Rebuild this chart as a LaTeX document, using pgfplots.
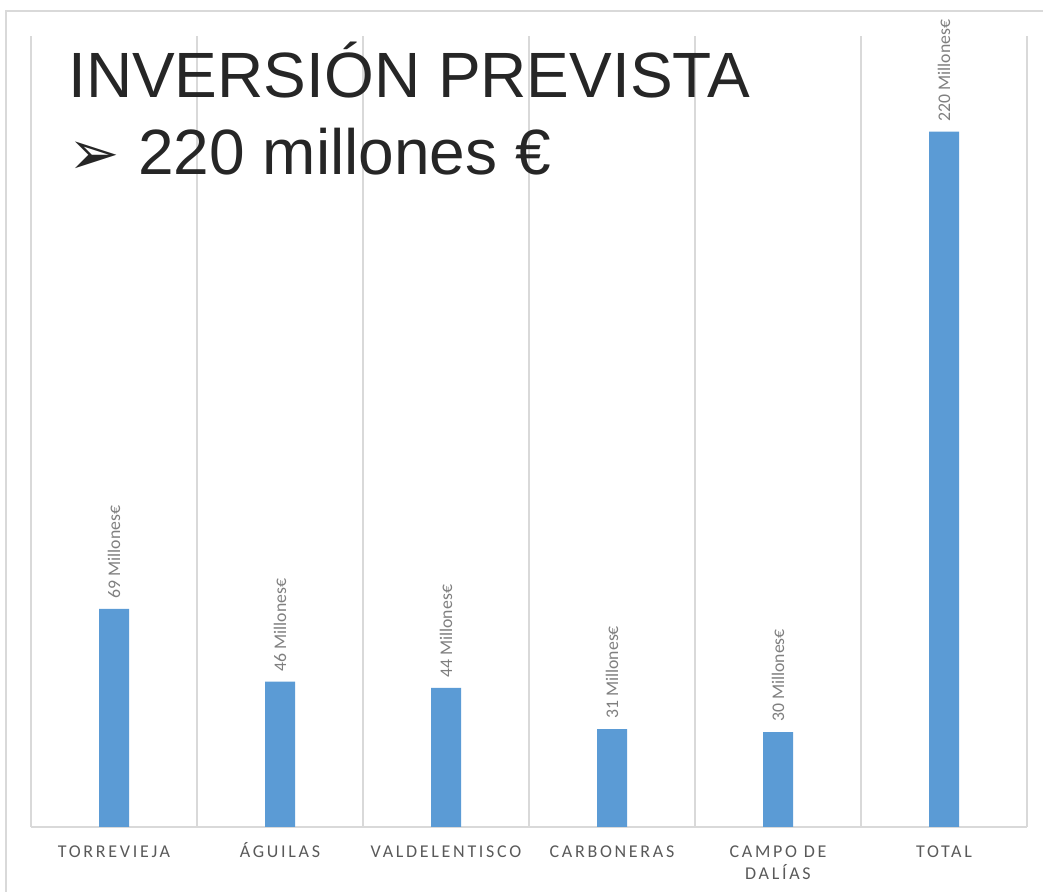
\documentclass[border=0pt]{standalone}
\usepackage{fontspec}
\setmainfont{Liberation Sans}
\newfontfamily\carlito{Carlito}
\newfontfamily\carlitosp[LetterSpace=15]{Carlito}
\newfontfamily\dejavu{DejaVu Sans}
\usepackage{pgfplots}
\usepackage{pgfplotstable}
\pgfplotsset{compat=1.18}
\definecolor{barblue}{HTML}{5B9BD5}
\definecolor{gridgray}{HTML}{D9D9D9}
\definecolor{ticklab}{HTML}{595959}
\definecolor{datalab}{HTML}{7F7F7F}
\definecolor{titlegray}{HTML}{262626}

% inversión prevista por puerto (millones de euros)
\pgfplotstableread{
x val
0 69
1 46
2 44
3 31
4 30
5 220
}\inversion

\begin{document}
\begin{tikzpicture}
\begin{axis}[
  at={(0,0)}, anchor=south west,
  scale only axis, width=747pt, height=593.25pt,
  xmin=-0.5, xmax=5.5, ymin=0, ymax=250.3,
  axis x line*=bottom, axis y line=none,
  x axis line style={draw=gridgray, line width=1.1pt},
  ytick=\empty,
  xtick={0,...,5},
  xticklabels={TORREVIEJA, ÁGUILAS, VALDELENTISCO, CARBONERAS, {CAMPO DE\\DALÍAS}, TOTAL},
  minor xtick={-0.5,0.5,...,5.5},
  xminorgrids,
  minor grid style={draw=gridgray, line width=1.1pt},
  major tick length=0pt, minor tick length=0pt,
  typeset ticklabels with strut,
  x tick label style={font=\carlitosp\fontsize{13.5}{16.5}\selectfont, text=ticklab,
    align=center, anchor=north, inner sep=0pt, yshift=-10.95pt},
  ybar, bar width=22.5pt,
  /pgf/number format/assume math mode=true,
  nodes near coords={\pgfmathprintnumber{\pgfplotspointmeta}~Millones€},
  nodes near coords style={rotate=90, anchor=west, text=datalab,
    font=\carlito\fontsize{13.3}{16}\selectfont, inner ysep=0pt, inner xsep=7.5pt},
]
\addplot[fill=barblue, draw=none] table[x=x, y=val] {\inversion};
\end{axis}
\draw[gridgray, line width=1.1pt] (-18.75pt,-80pt) -- (-18.75pt,612pt) -- (800pt,612pt);
\node[anchor=base west, inner sep=0pt, text=titlegray, font=\fontsize{48}{56}\selectfont]
  at (27.75pt,546.75pt) {INVERSIÓN PREVISTA};
\node[anchor=base west, inner sep=0pt, text=titlegray, font=\dejavu\fontsize{46}{50}\selectfont]
  at (28pt,489pt) {➢};
\node[anchor=base west, inner sep=0pt, text=titlegray, font=\fontsize{48}{56}\selectfont]
  at (80.25pt,489pt) {220 millones €};
\pgfresetboundingbox
\useasboundingbox (-23.25pt,-48.75pt) rectangle (759pt,620.25pt);
\end{tikzpicture}
\end{document}
